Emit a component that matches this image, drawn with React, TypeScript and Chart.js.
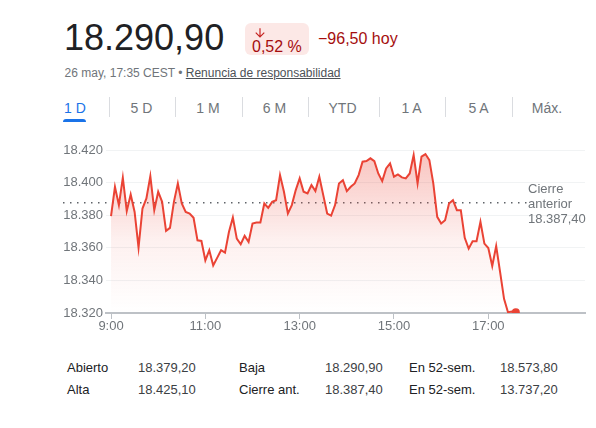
import React, { useEffect, useRef } from "react";
import { Chart, registerables } from "chart.js";

Chart.register(...registerables);

const FONT = '"Liberation Sans", Arial, Helvetica, sans-serif';

// ---- header texts ----
const lastPrice = "18.290,90";
const changePct = "0,52 %";
const changeAbs = "\u221296,50 hoy";
const timestamp = "26 may, 17:35 CEST";
const disclaimer = "Renuncia de responsabilidad";
const rangeTabs = ["1 D", "5 D", "1 M", "6 M", "YTD", "1 A", "5 A", "Máx."];

// ---- series (5-minute closes from 9:00) ----
const sessionStartHour = 9;
const intervalMinutes = 5;
const prices = [
  18379.4, 18397.4, 18386.2, 18403.0, 18382.5, 18392.7, 18382.0, 18360.1,
  18384.1, 18390.3, 18404.0, 18383.1, 18394.4, 18388.2, 18370.4, 18372.2,
  18388.2, 18399.5, 18387.2, 18382.0, 18381.0, 18378.4, 18364.6, 18364.2,
  18352.3, 18358.5, 18349.2, 18353.8, 18358.5, 18357.0, 18369.7, 18378.6,
  18365.6, 18362.2, 18367.3, 18363.6, 18374.9, 18375.5, 18375.5, 18387.2,
  18384.5, 18388.2, 18389.2, 18404.6, 18394.4, 18381.0, 18386.2, 18395.4,
  18402.6, 18394.4, 18393.3, 18398.5, 18394.8, 18403.6, 18392.3, 18381.0,
  18379.8, 18386.2, 18399.5, 18401.5, 18394.8, 18397.4, 18399.5, 18404.6,
  18412.8, 18413.2, 18414.9, 18413.2, 18405.6, 18400.9, 18408.7, 18411.8,
  18403.6, 18405.0, 18403.2, 18402.6, 18405.6, 18416.9, 18399.5, 18415.9,
  18417.5, 18413.8, 18399.5, 18379.0, 18374.9, 18376.9, 18387.2, 18389.2,
  18383.1, 18383.1, 18366.1, 18359.5, 18364.0, 18364.0, 18375.9, 18362.6,
  18359.9, 18348.8, 18361.0, 18345.1, 18328.7, 18320.5, 18320.9, 18320.5,
];
const prevClose = 18387.4;
const prevCloseLabel = ["Cierre", "anterior", "18.387,40"];

// ---- axes ----
const yMin = 18320;
const yMax = 18420;
const yStep = 20;
const xTickLabels = ["9:00", "11:00", "13:00", "15:00", "17:00"];
const xRangeMinutes = [-6.4, 603];

// ---- stats ----
const statLabels = [
  ["Abierto", "Alta"],
  ["Baja", "Cierre ant."],
  ["En 52-sem.", "En 52-sem."],
];
const statValues = [
  ["18.379,20", "18.425,10"],
  ["18.290,90", "18.387,40"],
  ["18.573,80", "13.737,20"],
];

const RED = "#ea4335";
const GREY = "#70757a";

function labelToMinutes(l: string) {
  const [h, m] = l.split(":").map(Number);
  return (h - sessionStartHour) * 60 + m;
}
function minutesToLabel(v: number) {
  const total = sessionStartHour * 60 + Math.round(v);
  const h = Math.floor(total / 60);
  const m = total % 60;
  return `${h}:${m < 10 ? "0" : ""}${m}`;
}
function fmtThousands(v: number) {
  const s = Math.round(v).toString();
  return s.slice(0, s.length - 3) + "." + s.slice(-3);
}

const prevClosePlugin = {
  id: "prevClose",
  beforeDatasetsDraw(chart: any) {
    const { ctx, chartArea, scales } = chart;
    const py = Math.round(scales.y.getPixelForValue(prevClose));
    ctx.save();
    ctx.fillStyle = "#5f6368";
    for (let x = chartArea.left - 43; x < chartArea.right - 57; x += 7) {
      ctx.fillRect(Math.round(x), py - 1, 1.5, 1.5);
    }
    ctx.restore();
  },
  afterDatasetsDraw(chart: any) {
    const { ctx, chartArea, scales } = chart;
    const py = scales.y.getPixelForValue(prevClose);
    ctx.save();
    ctx.fillStyle = GREY;
    ctx.font = `13px ${FONT}`;
    ctx.textAlign = "left";
    ctx.textBaseline = "alphabetic";
    const x = chartArea.right - 57;
    prevCloseLabel.forEach((t, i) => {
      ctx.fillText(t, x, py - 10 + i * 15);
    });
    ctx.restore();
  },
};

function PriceChart() {
  const ref = useRef<HTMLCanvasElement | null>(null);
  useEffect(() => {
    if (!ref.current) return;
    const data = prices.map((p, i) => ({ x: i * intervalMinutes, y: p }));
    const last = data.length - 1;
    const chart = new Chart(ref.current, {
      type: "line",
      data: {
        datasets: [
          {
            data,
            borderColor: RED,
            borderWidth: 2,
            tension: 0,
            fill: "start",
            backgroundColor: (c: any) => {
              const ca = c.chart.chartArea;
              if (!ca) return "rgba(234,67,53,0.2)";
              const g = c.chart.ctx.createLinearGradient(0, ca.top, 0, ca.bottom);
              g.addColorStop(0, "rgba(234,67,53,0.32)");
              g.addColorStop(0.55, "rgba(234,67,53,0.08)");
              g.addColorStop(1, "rgba(234,67,53,0)");
              return g;
            },
            pointRadius: (c: any) => (c.dataIndex === last ? 4 : 0),
            pointBackgroundColor: RED,
            pointBorderColor: RED,
            pointBorderWidth: 0,
            pointHoverRadius: 0,
          },
        ],
      },
      options: {
        animation: false,
        responsive: false,
        events: [],
        layout: { padding: { top: 20, right: 11, left: 0, bottom: 0 } },
        plugins: { legend: { display: false }, tooltip: { enabled: false } },
        scales: {
          x: {
            type: "linear",
            min: xRangeMinutes[0],
            max: xRangeMinutes[1],
            afterBuildTicks: (s: any) => {
              s.ticks = xTickLabels.map((l) => ({ value: labelToMinutes(l) }));
            },
            afterFit: (s: any) => {
              s.height = 29;
            },
            ticks: {
              callback: (v: any) => minutesToLabel(Number(v)),
              color: GREY,
              font: { family: FONT, size: 13 },
              padding: 0,
              maxRotation: 0,
              autoSkip: false,
            },
            grid: {
              drawOnChartArea: false,
              drawTicks: true,
              tickLength: 6,
              color: "#bdc1c6",
              lineWidth: 1,
            },
            border: { display: true, color: "#bdc1c6", width: 2 },
          },
          y: {
            min: yMin,
            max: yMax,
            afterFit: (s: any) => {
              s.width = 106;
            },
            ticks: {
              stepSize: yStep,
              callback: (v: any) => fmtThousands(Number(v)),
              color: GREY,
              font: { family: FONT, size: 13 },
              padding: 3,
            },
            grid: { color: "#f1f3f4", drawTicks: false, lineWidth: 1 },
            border: { display: false },
          },
        },
      },
      plugins: [prevClosePlugin],
    } as any);
    return () => chart.destroy();
  }, []);
  return (
    <canvas
      ref={ref}
      width={596}
      height={212}
      style={{ position: "absolute", left: 0, top: 130, width: 596, height: 212 }}
    />
  );
}

const abs = (left: number, top: number, size: number, extra: any = {}) => ({
  position: "absolute" as const,
  left,
  top,
  fontSize: size,
  lineHeight: `${size}px`,
  whiteSpace: "nowrap" as const,
  ...extra,
});

export default function App() {
  const tabCenters = [75, 141.5, 208, 274.5, 342.5, 411.5, 478.5, 547];
  const seps = [109, 175, 242, 308, 379, 445, 512];
  const statCols = [
    [67, 138],
    [239, 325],
    [409, 500],
  ];
  const rowBaselines = [372, 394];
  return (
    <div
      style={{
        position: "absolute",
        left: 0,
        top: 0,
        width: 596,
        height: 428,
        background: "#fff",
        fontFamily: FONT,
        color: "#202124",
        overflow: "hidden",
      }}
    >
      <div style={abs(64, 50.7 - 36 * 0.8465, 36, { color: "#202124" })}>{lastPrice}</div>
      <div
        style={{
          position: "absolute",
          left: 245,
          top: 23,
          width: 64,
          height: 32,
          borderRadius: 6,
          background: "#fce8e6",
        }}
      />
      <svg
        style={{ position: "absolute", left: 253, top: 26 }}
        width={14}
        height={14}
        viewBox="0 0 24 24"
      >
        <path
          fill="#c5221f"
          d="M20 12l-1.41-1.41L13 16.17V4h-2v12.17l-5.58-5.59L4 12l8 8 8-8z"
        />
      </svg>
      <div style={abs(252, 53 - 16 * 0.8465, 16, { color: "#a50e0e" })}>{changePct}</div>
      <div style={abs(318, 45 - 16 * 0.8465, 16, { color: "#a50e0e" })}>{changeAbs}</div>
      <div style={abs(64.6, 77 - 12 * 0.8465, 12, { color: GREY })}>
        {timestamp} •{" "}
        <span style={{ color: "#4d5156", textDecoration: "underline" }}>{disclaimer}</span>
      </div>
      {rangeTabs.map((t, i) => (
        <div
          key={t}
          style={abs(tabCenters[i] - 30, 113 - 14 * 0.8465, 14, {
            width: 60,
            textAlign: "center",
            color: i === 0 ? "#1a73e8" : GREY,
          })}
        >
          {t}
        </div>
      ))}
      {seps.map((x) => (
        <div
          key={x}
          style={{ position: "absolute", left: x, top: 97, width: 1, height: 20, background: "#dadce0" }}
        />
      ))}
      <div
        style={{
          position: "absolute",
          left: 63,
          top: 119,
          width: 23,
          height: 3,
          borderRadius: "3px 3px 0 0",
          background: "#1a73e8",
        }}
      />
      <PriceChart />
      {statLabels.map((col, ci) =>
        col.map((lab, ri) => (
          <React.Fragment key={`${ci}-${ri}`}>
            <div style={abs(statCols[ci][0], rowBaselines[ri] - 13 * 0.8465, 13, { color: "#202124" })}>
              {lab}
            </div>
            <div style={abs(statCols[ci][1], rowBaselines[ri] - 13 * 0.8465, 13, { color: "#3c4043" })}>
              {statValues[ci][ri]}
            </div>
          </React.Fragment>
        ))
      )}
    </div>
  );
}
